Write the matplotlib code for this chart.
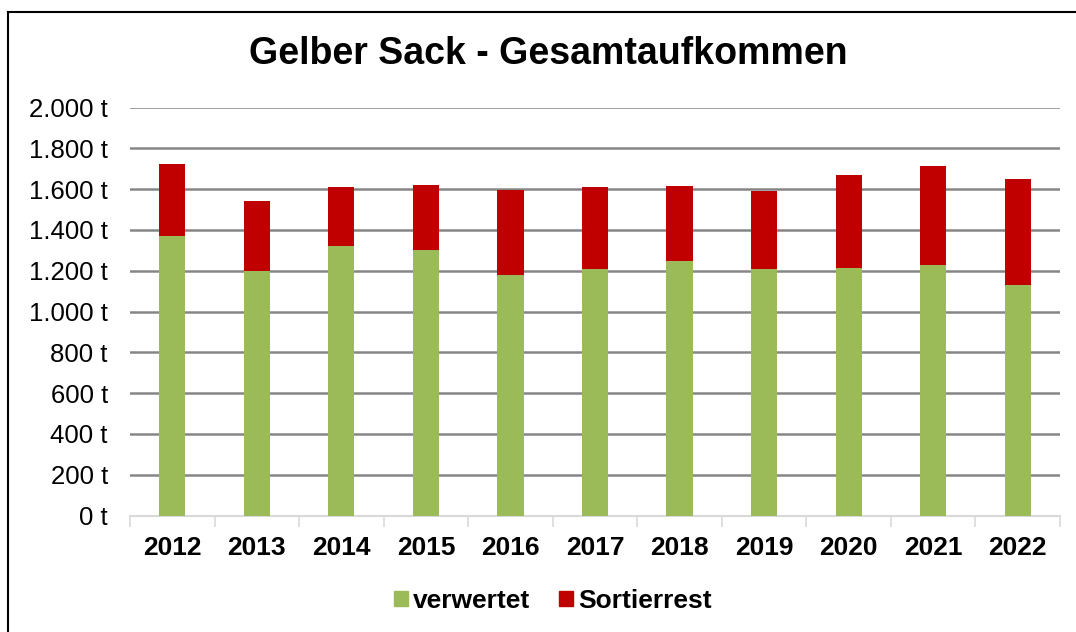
import numpy as np
import matplotlib
matplotlib.use("Agg")
import matplotlib.pyplot as plt
from matplotlib.lines import Line2D
from matplotlib.patches import Patch
from matplotlib.ticker import FuncFormatter

plt.rcParams['font.family'] = ['Liberation Sans', 'DejaVu Sans']

years = ['2012', '2013', '2014', '2015', '2016', '2017', '2018', '2019', '2020', '2021', '2022']
verwertet = [1372, 1200, 1323, 1302, 1179, 1210, 1250, 1207, 1213, 1228, 1132]
gesamt = [1725, 1543, 1610, 1618, 1598, 1608, 1615, 1592, 1669, 1715, 1648]
sortierrest = [g - v for g, v in zip(gesamt, verwertet)]

green = '#9BBB59'
red = '#C00000'

fig = plt.figure(figsize=(10.76, 6.32), dpi=100)
ax = fig.add_axes([130 / 1076, 1 - 515.5 / 632, 930 / 1076, 408 / 632])

x = np.arange(len(years))
ax.bar(x, verwertet, 0.31, color=green, zorder=3)
ax.bar(x, sortierrest, 0.31, bottom=verwertet, color=red, zorder=3)

ax.set_xlim(-0.5, len(years) - 0.5)
ax.set_ylim(0, 2000)
ax.set_yticks(np.arange(0, 2001, 200))
ax.yaxis.set_major_formatter(FuncFormatter(lambda v, p: f"{int(v):,} t".replace(',', '.')))
ax.set_xticks(x)
ax.set_xticklabels(years, fontsize=19, fontweight='bold')
ax.set_xticks(np.arange(-0.5, len(years), 1), minor=True)
ax.tick_params(axis='x', which='major', length=0, pad=15)
ax.tick_params(axis='x', which='minor', length=8, color='#D9D9D9', width=1.2)
ax.tick_params(axis='y', length=0, labelsize=18.5, pad=16)

for v in np.arange(200, 2001, 200):
    ax.axhline(v, color='#868686', lw=1.8, zorder=1)

for s in ['top', 'right', 'left']:
    ax.spines[s].set_visible(False)
ax.spines['bottom'].set_color('#D9D9D9')
ax.spines['bottom'].set_linewidth(1.5)

fig.text(548 / 1076, 1 - 54 / 632, 'Gelber Sack - Gesamtaufkommen', ha='center', va='center',
         fontsize=27, fontweight='bold')

handles = [Patch(color=green, label='verwertet'), Patch(color=red, label='Sortierrest')]
fig.legend(handles=handles, loc='center', bbox_to_anchor=(553 / 1076, 1 - 601 / 632), ncol=2,
           frameon=False, prop={'size': 19, 'weight': 'bold'}, handlelength=0.53, handleheight=0.53,
           handletextpad=0.2, columnspacing=1.1)

# chart frame (left and top edges visible)
fig.add_artist(Line2D([8 / 1076, 8 / 1076], [0, 1 - 12 / 632], color='black', lw=1.5, transform=fig.transFigure))
fig.add_artist(Line2D([8 / 1076, 1], [1 - 12 / 632, 1 - 12 / 632], color='black', lw=1.5, transform=fig.transFigure))

fig.savefig('out.png', dpi=100)
